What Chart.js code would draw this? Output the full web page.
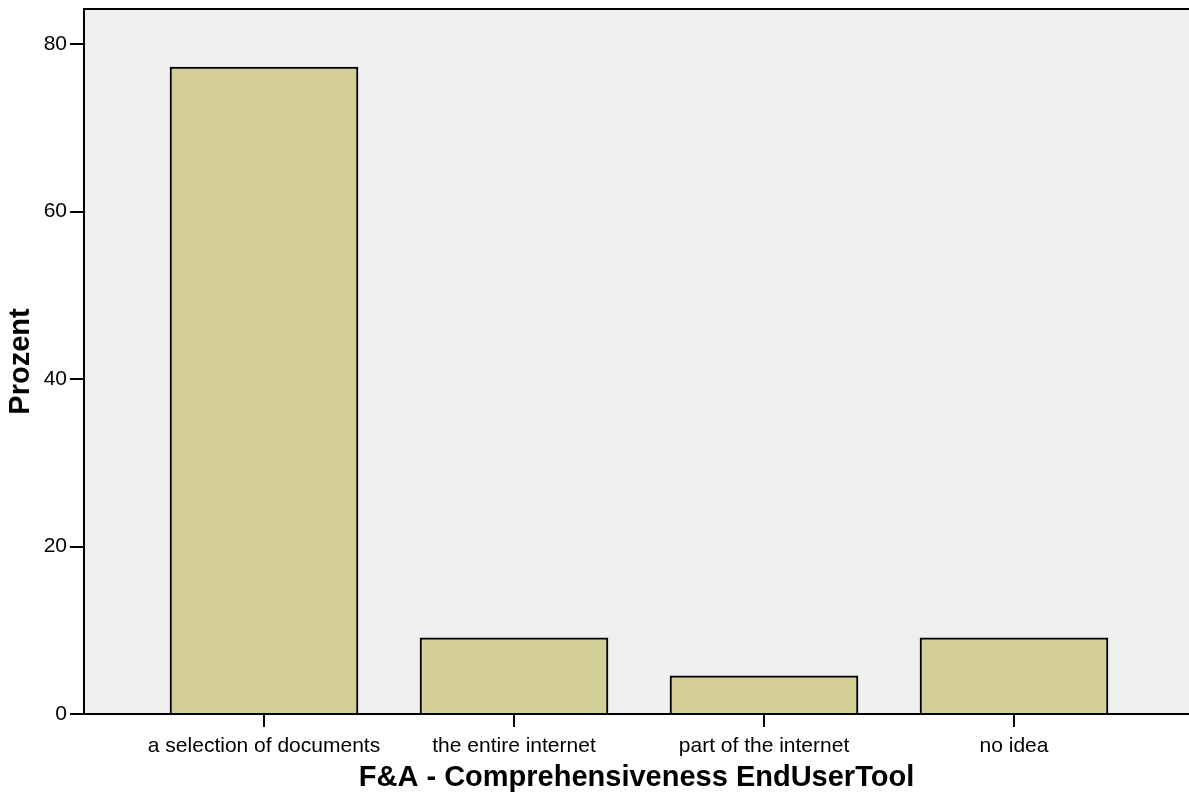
<!DOCTYPE html>
<html>
<head>
<meta charset="utf-8">
<script src="https://cdn.jsdelivr.net/npm/chart.js@4"></script>
<style>
  body { margin: 0; background: #fff; }
  #wrap { width: 1189px; height: 798px; }
</style>
</head>
<body>
<div id="wrap"><canvas id="barChart"></canvas></div>
<script>
const categories = ['a selection of documents', 'the entire internet', 'part of the internet', 'no idea'];
const percents = [77.27, 9.09, 4.55, 9.09];
const yTicks = [0, 20, 40, 60, 80];

const plotBg = {
  id: 'plotBg',
  beforeDraw(chart) {
    const { ctx, chartArea: a } = chart;
    ctx.save();
    ctx.fillStyle = '#EFEFEF';
    ctx.fillRect(a.left, a.top, a.right - a.left, a.bottom - a.top);
    ctx.restore();
  },
  afterDraw(chart) {
    const { ctx, chartArea: a } = chart;
    ctx.save();
    ctx.strokeStyle = '#000';
    ctx.lineWidth = 2;
    ctx.beginPath();
    ctx.moveTo(a.left - 1, a.top);
    ctx.lineTo(a.right, a.top);
    ctx.stroke();
    ctx.restore();
  }
};

document.addEventListener('DOMContentLoaded', function() {
  const ctx = document.getElementById('barChart').getContext('2d');
  new Chart(ctx, {
    type: 'bar',
    data: {
      datasets: [{
        data: percents.map((v, i) => ({ x: i, y: v })),
        backgroundColor: '#D3CE98',
        borderColor: '#000',
        borderWidth: 2,
        barThickness: 188
      }]
    },
    options: {
      responsive: true,
      maintainAspectRatio: false,
      animation: false,
      layout: { padding: { top: 9, right: 0, left: 0, bottom: 0 } },
      plugins: { legend: { display: false }, tooltip: { enabled: false } },
      scales: {
        x: {
          type: 'linear',
          offset: false,
          min: -0.72,
          max: 3.7,
          afterBuildTicks: s => { s.ticks = categories.map((c, i) => ({ value: i })); },
          afterFit: s => { s.height = 84; s.paddingLeft = 0; s.paddingRight = 0; },
          grid: { offset: false, drawOnChartArea: false, drawTicks: true, tickLength: 13, color: '#000', lineWidth: 2 },
          border: { color: '#000', width: 2 },
          ticks: {
            autoSkip: false, maxRotation: 0, padding: 7, color: '#000',
            font: { family: '"Liberation Sans", Arial', size: 21 },
            callback: v => categories[v]
          },
          title: {
            display: true, text: 'F&A - Comprehensiveness EndUserTool', color: '#000',
            font: { family: '"Liberation Sans", Arial', size: 29, weight: 'bold' },
            padding: { top: 0, bottom: 3 }
          }
        },
        y: {
          min: 0,
          max: 84.2,
          afterBuildTicks: s => { s.ticks = yTicks.map(v => ({ value: v })); },
          afterFit: s => { s.width = 84; s.paddingTop = 0; s.paddingBottom = 0; },
          grid: { drawOnChartArea: false, drawTicks: true, tickLength: 14, color: '#000', lineWidth: 2 },
          border: { color: '#000', width: 2 },
          ticks: {
            padding: 3, color: '#000',
            font: { family: '"Liberation Sans", Arial', size: 21 }
          },
          title: {
            display: true, text: 'Prozent', color: '#000',
            font: { family: '"Liberation Sans", Arial', size: 29, weight: 'bold' },
            padding: { top: 4, bottom: 0 }
          }
        }
      }
    },
    plugins: [plotBg]
  });
});
</script>
</body>
</html>
